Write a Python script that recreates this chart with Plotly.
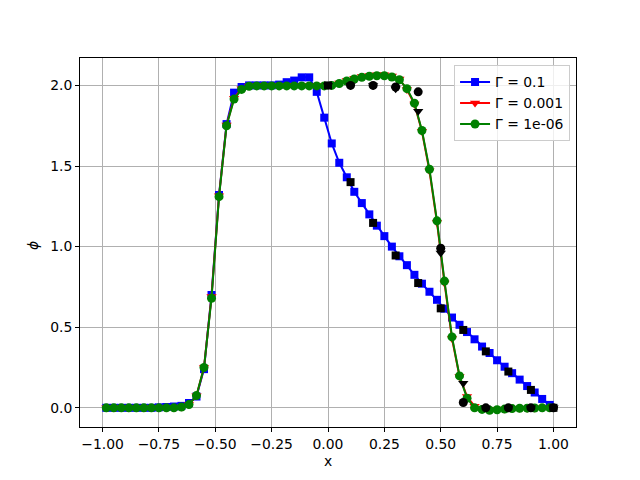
import plotly.graph_objects as go

# cell-centred grid, 60 cells on [-1, 1]
x_num = [round(-1 + (i + 0.5) / 30, 5) for i in range(60)]

phi_g01 = [0.0, 0.0, 0.0, 0.0, 0.0, 0.0, 0.0, 0.003, 0.005, 0.008,
           0.012, 0.03, 0.07, 0.24, 0.70, 1.32, 1.76, 1.955, 1.99, 2.0,
           2.0, 2.0, 2.0, 2.005, 2.02, 2.03, 2.05, 2.05, 1.96, 1.80,
           1.64, 1.52, 1.43, 1.34, 1.27, 1.20, 1.13, 1.065, 1.00, 0.94,
           0.885, 0.825, 0.77, 0.72, 0.67, 0.615, 0.56, 0.515, 0.47, 0.425,
           0.38, 0.34, 0.295, 0.255, 0.215, 0.175, 0.135, 0.095, 0.055, 0.018]

phi_g0001 = [0.0, 0.0, 0.0, 0.0, 0.0, 0.0, 0.0, 0.0, 0.0, 0.0,
             0.005, 0.02, 0.075, 0.25, 0.69, 1.315, 1.755, 1.92, 1.98, 1.997,
             2.0, 2.0, 2.0, 2.0, 2.0, 2.0, 2.0, 2.0, 2.0, 2.0,
             2.002, 2.015, 2.03, 2.045, 2.055, 2.062, 2.066, 2.066, 2.058, 2.04,
             1.975, 1.885, 1.715, 1.47, 1.15, 0.775, 0.43, 0.195, 0.07, 0.01,
             -0.005, -0.01, -0.01, -0.007, -0.005, -0.003, -0.002, -0.001, 0.0, 0.0]

phi_g1e6 = [0.0, 0.0, 0.0, 0.0, 0.0, 0.0, 0.0, 0.0, 0.0, 0.0,
            0.005, 0.02, 0.076, 0.25, 0.68, 1.31, 1.75, 1.915, 1.975, 1.995,
            1.997, 1.997, 1.997, 1.997, 1.997, 1.997, 1.997, 1.997, 1.997, 1.997,
            2.0, 2.012, 2.027, 2.04, 2.05, 2.057, 2.06, 2.06, 2.052, 2.035,
            1.98, 1.89, 1.72, 1.48, 1.16, 0.786, 0.44, 0.198, 0.06, 0.0,
            -0.01, -0.015, -0.012, -0.008, -0.005, -0.003, -0.002, -0.001, 0.0, 0.0]

# reference (black) points
x_ref = [0.0, 0.1, 0.2, 0.3, 0.4, 0.5, 0.6, 0.7, 0.8, 0.9, 1.0]
ref_g01 = [2.0, 1.40, 1.147, 0.945, 0.774, 0.617, 0.483, 0.35, 0.225, 0.111, 0.0]
ref_g0001 = [2.0, 2.0, 2.0, 1.98, 1.84, 0.96, 0.153, 0.0, 0.0, 0.0, 0.0]
ref_g1e6 = [2.0, 2.0, 2.0, 1.99, 1.96, 0.99, 0.033, 0.0, 0.0, 0.0, 0.0]

labels = ["Γ = 0.1", "Γ = 0.001", "Γ = 1e-06"]

x_tickvals = [-1.0, -0.75, -0.5, -0.25, 0.0, 0.25, 0.5, 0.75, 1.0]
x_ticktext = ["−1.00", "−0.75", "−0.50", "−0.25", "0.00", "0.25", "0.50", "0.75", "1.00"]
y_tickvals = [0.0, 0.5, 1.0, 1.5, 2.0]
y_ticktext = ["0.0", "0.5", "1.0", "1.5", "2.0"]

FONT = "DejaVu Sans"
FS = 13.9

fig = go.Figure()
fig.add_trace(go.Scatter(x=x_num, y=phi_g01, mode="lines+markers", name=labels[0],
                         line=dict(color="#0000ff", width=2),
                         marker=dict(symbol="square", size=8, color="#0000ff")))
fig.add_trace(go.Scatter(x=x_num, y=phi_g0001, mode="lines+markers", name=labels[1],
                         line=dict(color="#ff0000", width=2),
                         marker=dict(symbol="triangle-down", size=9, color="#ff0000")))
fig.add_trace(go.Scatter(x=x_num, y=phi_g1e6, mode="lines+markers", name=labels[2],
                         line=dict(color="#008000", width=2),
                         marker=dict(symbol="circle", size=9, color="#008000")))
fig.add_trace(go.Scatter(x=x_ref, y=ref_g0001, mode="markers", showlegend=False,
                         marker=dict(symbol="triangle-down", size=9, color="black")))
fig.add_trace(go.Scatter(x=x_ref[1:], y=ref_g1e6[1:], mode="markers", showlegend=False,
                         marker=dict(symbol="circle", size=9, color="black")))
fig.add_trace(go.Scatter(x=x_ref, y=ref_g01, mode="markers", showlegend=False,
                         marker=dict(symbol="square", size=8, color="black")))

axis_common = dict(showline=True, mirror=True, linecolor="black", linewidth=1,
                   showgrid=True, gridcolor="#b0b0b0", gridwidth=0.8, zeroline=False,
                   ticks="outside", ticklen=4, tickwidth=1, tickcolor="black",
                   automargin=False,
                   tickfont=dict(family=FONT, size=FS, color="black"))

# the page body has an 8px margin, so the figure is sized to fit inside 640x480
fig.update_layout(
    width=624, height=464,
    margin=dict(l=72, r=56, t=50, b=45),
    paper_bgcolor="white", plot_bgcolor="white",
    font=dict(family=FONT, size=FS, color="black"),
    xaxis=dict(range=[-1.1, 1.1], tickvals=x_tickvals, ticktext=x_ticktext,
               **axis_common),
    yaxis=dict(range=[-0.119, 2.17], tickvals=y_tickvals, ticktext=y_ticktext,
               **axis_common),
    legend=dict(x=0.988, y=0.98, xanchor="right", yanchor="top",
                bgcolor="rgba(255,255,255,0.8)", bordercolor="#cccccc", borderwidth=1,
                font=dict(family=FONT, size=FS), tracegroupgap=0, itemwidth=30),
    showlegend=True,
    annotations=[
        dict(text="x", xref="paper", yref="paper", x=0.5, y=-0.092,
             xanchor="center", yanchor="middle", showarrow=False,
             font=dict(family=FONT, size=FS, color="black")),
        dict(text="<i>ϕ</i>", xref="paper", yref="paper", x=-0.095, y=0.493,
             xanchor="center", yanchor="middle", showarrow=False, textangle=-90,
             font=dict(family=FONT, size=FS, color="black")),
    ],
)

fig.write_html("out.html")
